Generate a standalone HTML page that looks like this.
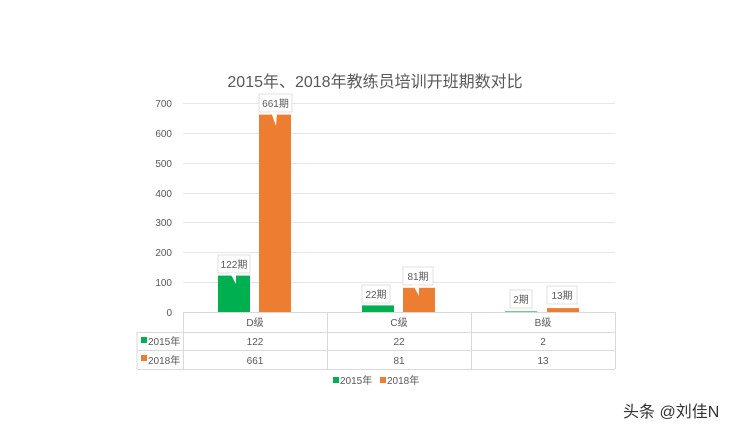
<!DOCTYPE html>
<html><head><meta charset="utf-8"><style>
body{margin:0;background:#fff;}
text{font-family:"Liberation Sans","Noto Sans CJK SC",sans-serif;}
</style></head><body>
<svg width="750" height="434" viewBox="0 0 750 434" xmlns="http://www.w3.org/2000/svg">
<rect width="750" height="434" fill="#fff"/>
<text x="375" y="87" text-anchor="middle" font-size="16" fill="#595959">2015年、2018年教练员培训开班期数对比</text>
<g stroke="#e6e6e6" stroke-width="1">
<line x1="183" x2="615" y1="103.5" y2="103.5"/>
<line x1="183" x2="615" y1="133.5" y2="133.5"/>
<line x1="183" x2="615" y1="163.5" y2="163.5"/>
<line x1="183" x2="615" y1="193.5" y2="193.5"/>
<line x1="183" x2="615" y1="222.5" y2="222.5"/>
<line x1="183" x2="615" y1="252.5" y2="252.5"/>
<line x1="183" x2="615" y1="282.5" y2="282.5"/>
</g>
<g font-size="10" fill="#595959" text-anchor="end">
<text x="172" y="107">700</text><text x="172" y="137">600</text><text x="172" y="167">500</text>
<text x="172" y="197">400</text><text x="172" y="226">300</text><text x="172" y="256">200</text>
<text x="172" y="286">100</text><text x="172" y="316">0</text>
</g>
<g fill="#00b050">
<rect x="218" y="275.6" width="32" height="36.4"/>
<rect x="362" y="305.4" width="32" height="6.6"/>
<rect x="505" y="311.4" width="32" height="0.6"/>
</g>
<g fill="#ed7d31">
<rect x="259" y="114.6" width="32" height="197.4"/>
<rect x="403" y="287.8" width="32" height="24.2"/>
<rect x="547" y="308.1" width="32" height="3.9"/>
</g>
<g fill="#fff" stroke="#d9d9d9" stroke-width="0.8">
<rect x="218" y="255" width="32" height="18"/>
<rect x="259" y="94" width="33" height="18"/>
<rect x="362" y="285" width="28" height="18"/>
<rect x="403" y="267" width="30" height="18"/>
<rect x="510" y="290" width="22" height="18"/>
<rect x="547" y="286" width="30" height="18"/>
</g>
<polygon points="230,273 236,273 236,284" fill="#fff"/>
<polygon points="271,112 277,112 276,126" fill="#fff"/>
<polygon points="413,285 419,285 419,296" fill="#fff"/>
<g font-size="10" fill="#595959" text-anchor="middle">
<text x="234" y="268">122期</text><text x="275.5" y="107">661期</text>
<text x="376" y="298">22期</text><text x="418" y="280">81期</text>
<text x="521" y="303">2期</text><text x="562" y="299">13期</text>
</g>
<g stroke="#d9d9d9" stroke-width="1" fill="none">
<line x1="183" x2="615" y1="312.5" y2="312.5"/>
<line x1="137" x2="615" y1="332.5" y2="332.5"/>
<line x1="137" x2="615" y1="350.5" y2="350.5"/>
<line x1="137" x2="615" y1="369.5" y2="369.5"/>
<line x1="137" x2="137" y1="332" y2="369"/>
<line x1="183.5" x2="183.5" y1="312" y2="369"/>
<line x1="327.5" x2="327.5" y1="312" y2="369"/>
<line x1="471.5" x2="471.5" y1="312" y2="369"/>
<line x1="615.5" x2="615.5" y1="312" y2="369"/>
</g>
<g font-size="10" fill="#595959" text-anchor="middle">
<text x="255" y="326">D级</text><text x="399" y="326">C级</text><text x="543" y="326">B级</text>
<text x="255" y="345">122</text><text x="399" y="345">22</text><text x="543" y="345">2</text>
<text x="255" y="364">661</text><text x="399" y="364">81</text><text x="543" y="364">13</text>
</g>
<rect x="141" y="337" width="6" height="6" fill="#00b050"/>
<rect x="141" y="355" width="6" height="6" fill="#ed7d31"/>
<g font-size="10" fill="#595959">
<text x="148" y="345">2015年</text><text x="148" y="364">2018年</text>
</g>
<rect x="333" y="377" width="6" height="6" fill="#00b050"/>
<rect x="380" y="377" width="6" height="6" fill="#ed7d31"/>
<g font-size="10" fill="#595959">
<text x="340" y="384">2015年</text><text x="387" y="384">2018年</text>
</g>
<text x="623" y="417" font-size="16" fill="#333">头条 @刘佳N</text>
</svg>
</body></html>
